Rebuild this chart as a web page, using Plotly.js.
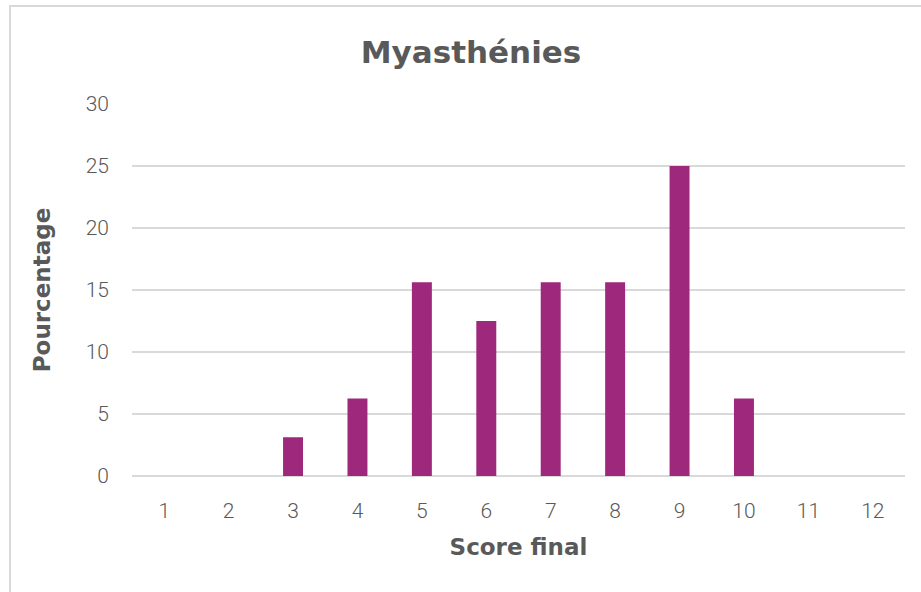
<!DOCTYPE html>
<html><head><meta charset="utf-8">
<script src="https://cdn.plot.ly/plotly-3.0.1.min.js"></script>
<style>
html,body{margin:0;padding:0;background:#fff;overflow:hidden;}
#chart{position:absolute;left:0;top:0;width:921px;height:592px;}
#frame{position:absolute;left:9px;top:5px;width:940px;height:620px;border:2px solid #d9d9d9;pointer-events:none;}
</style></head>
<body>
<div id="chart"></div>
<div id="frame"></div>
<script>
const categories = ["1","2","3","4","5","6","7","8","9","10","11","12"];
const values = [0, 0, 3.125, 6.25, 15.625, 12.5, 15.625, 15.625, 25, 6.25, 0, 0];
const yTicks = [0, 5, 10, 15, 20, 25, 30];
const titleText = "Myasthénies";
const xTitle = "Score final";
const yTitle = "Pourcentage";

const boldFam = "'DejaVu Sans', sans-serif";
const tickFam = "Roboto, 'Noto Sans', sans-serif";
const data = [{
  type: "bar",
  x: categories,
  y: values,
  marker: {color: "#9E287B"},
  hoverinfo: "x+y"
}];
const layout = {
  width: 921, height: 592,
  margin: {l: 132, r: 16, t: 104, b: 116},
  paper_bgcolor: "#fff", plot_bgcolor: "#fff",
  bargap: 0.69,
  showlegend: false,
  title: {text: "<b>" + titleText + "</b>", x: 471/921, xref: "container", xanchor: "center",
          y: 1 - 52/592, yref: "container", yanchor: "middle",
          font: {family: boldFam, size: 31, color: "#595959"}},
  xaxis: {type: "category", showgrid: false, zeroline: false, showline: false,
          ticks: "", ticklabelstandoff: 20,
          tickfont: {family: tickFam, size: 21, weight: 300, color: "#595959"},
          title: {text: "<b>" + xTitle + "</b>", standoff: 16,
                  font: {family: boldFam, size: 23, color: "#595959"}}},
  yaxis: {range: [0, 30], tickvals: yTicks, showgrid: true, gridcolor: "#d9d9d9", gridwidth: 1.5,
          zeroline: true, zerolinecolor: "#d9d9d9", zerolinewidth: 1.5, showline: false,
          ticks: "", ticklabelstandoff: 22,
          tickfont: {family: tickFam, size: 21, weight: 300, color: "#595959"},
          title: {text: "<b>" + yTitle + "</b>", standoff: 28,
                  font: {family: boldFam, size: 23, color: "#595959"}}}
};
Plotly.newPlot("chart", data, layout, {displayModeBar: false, staticPlot: true});
</script>
</body></html>
